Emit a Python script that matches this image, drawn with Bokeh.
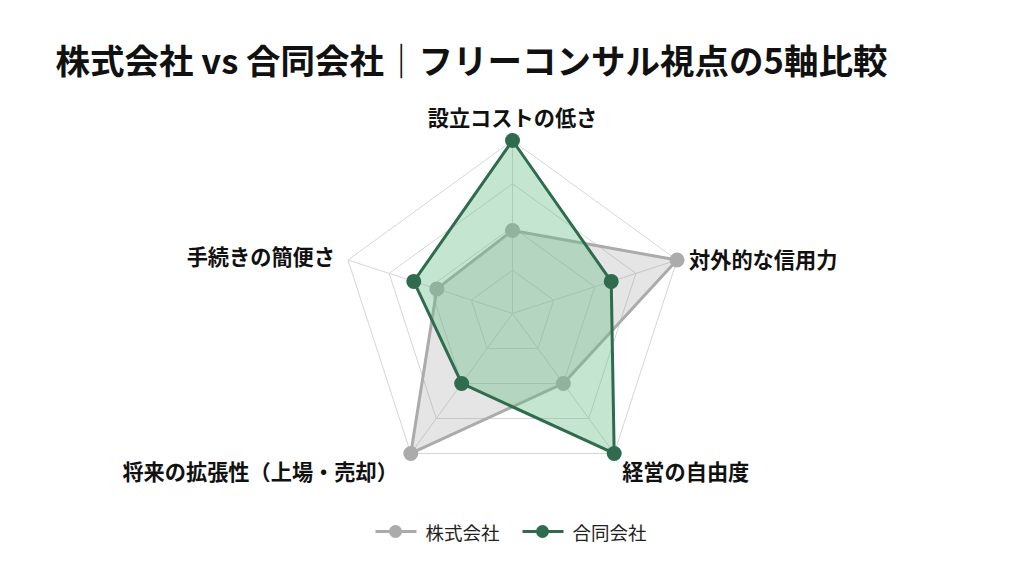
import numpy as np
from bokeh.plotting import figure
from bokeh.models import Range1d
from bokeh.core.properties import value
from bokeh.embed import file_html
from bokeh.resources import INLINE

# data
axes_labels = ["設立コストの低さ", "対外的な信用力", "経営の自由度",
               "将来の拡張性（上場・売却）", "手続きの簡便さ"]
kabushiki = [2.4, 5, 2.5, 5, 2.3]
goudou = [5, 3, 5, 2.5, 3]
series_names = ["株式会社", "合同会社"]
max_val = 5
rings = [1.25, 2.5, 3.75, 5]
title_text = "株式会社 vs 合同会社｜フリーコンサル視点の5軸比較"

FONT = "Noto Sans CJK JP"
GRAY = "#ababab"
GREEN = "#2f6b4f"
GREEN_FILL = "#6cc08b"

# 1 data unit = 1 pixel, radar center at (0, 0)
W, H = 1008, 556
R = 173
p = figure(width=W, height=H, output_backend="svg", toolbar_location=None,
           x_range=Range1d(-512, 496), y_range=Range1d(-243, 313),
           min_border=0)
p.axis.visible = False
p.grid.visible = False
p.outline_line_color = None

n = len(axes_labels)
theta = np.pi / 2 - np.arange(n) * 2 * np.pi / n


def to_xy(vals):
    r = np.array(vals, dtype=float) / max_val * R
    return r * np.cos(theta), r * np.sin(theta)


# grid rings and spokes
for lv in rings:
    gx, gy = to_xy([lv] * n)
    p.line(list(gx) + [gx[0]], list(gy) + [gy[0]], line_color="#d6d6d6", line_width=1)
ox, oy = to_xy([max_val] * n)
for i in range(n):
    p.line([0, ox[i]], [0, oy[i]], line_color="#d6d6d6", line_width=1)

# 株式会社
kx, ky = to_xy(kabushiki)
p.patch(list(kx), list(ky), fill_color="#999999", fill_alpha=0.25, line_color=None)
p.line(list(kx) + [kx[0]], list(ky) + [ky[0]], line_color=GRAY, line_width=3)
p.scatter(kx, ky, size=15, fill_color=GRAY, line_color=None)

# 合同会社
gx, gy = to_xy(goudou)
p.patch(list(gx), list(gy), fill_color=GREEN_FILL, fill_alpha=0.4, line_color=None)
p.line(list(gx) + [gx[0]], list(gy) + [gy[0]], line_color=GREEN, line_width=3)
p.scatter(gx, gy, size=15, fill_color=GREEN, line_color=None)

# axis names
offs = [(0, 24), (12, 2), (8, -17), (-13, -17), (-13, 5)]
aligns = ["center", "left", "left", "right", "right"]
for i in range(n):
    p.text(x=[ox[i] + offs[i][0]], y=[oy[i] + offs[i][1]], text=[axes_labels[i]],
           text_font=value(FONT), text_font_style="bold", text_font_size="21.2px",
           text_align=aligns[i], text_baseline="middle", text_color="#111111")

# title
p.text(x=[-457], y=[255], text=[title_text], text_font=value(FONT),
       text_font_style="bold", text_font_size="34.5px", text_baseline="middle",
       text_color="#111111")

# legend
leg_y = -218
for lx, col, name in [(-137, GRAY, series_names[0]), (10, GREEN, series_names[1])]:
    p.line([lx, lx + 41], [leg_y, leg_y], line_color=col, line_width=3)
    p.scatter([lx + 20], [leg_y], size=13, fill_color=col, line_color=None)
    p.text(x=[lx + 50], y=[leg_y], text=[name], text_font=value(FONT),
           text_font_size="18.5px", text_baseline="middle", text_color="#222222")

open("out.html", "w").write(file_html(p, INLINE))
